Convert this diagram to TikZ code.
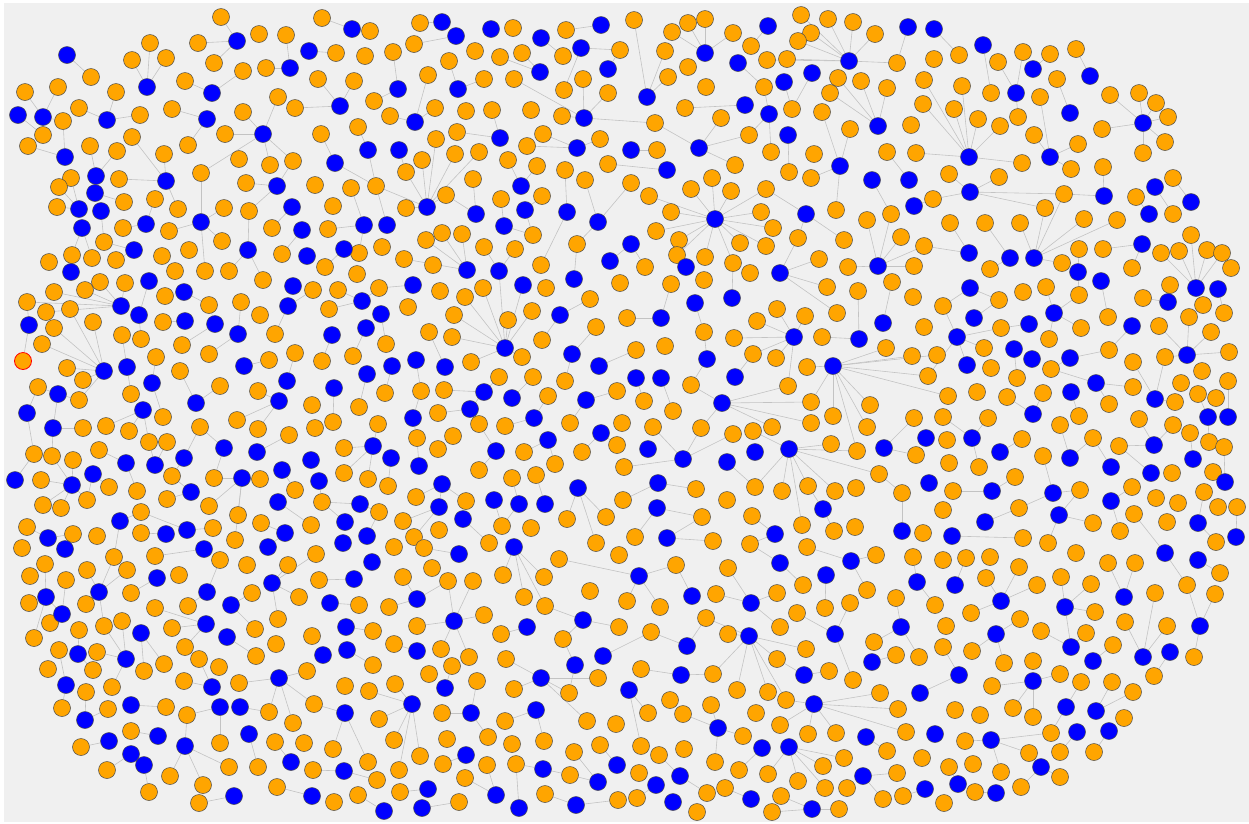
\documentclass[tikz,border=0pt]{standalone}
\usetikzlibrary{backgrounds}
\definecolor{bgc}{RGB}{240,240,240}
\definecolor{orn}{RGB}{255,165,0}
\definecolor{blu}{RGB}{0,0,255}
\definecolor{edg}{RGB}{195,195,195}
\newcommand\linkif[2]{\ifcsname pgf@sh@ns@n#1\endcsname\ifcsname pgf@sh@ns@n#2\endcsname\draw[link] (n#1) -- (n#2);\fi\fi}
\begin{document}
\begin{tikzpicture}[x=1pt,y=-1pt,
  vert/.style={circle,draw=black!70,line width=0.5pt,minimum size=17pt,inner sep=0pt},
  onode/.style={vert,fill=orn},
  bnode/.style={vert,fill=blu},
  link/.style={draw=edg,line width=0.6pt}]
\useasboundingbox (0,0) rectangle (1249,823);
% orange nodes
\foreach \x/\y in {221/17,198/43,259/34,286/35,150/43,132/60,166/58,214/63,243/71,266/68,91/77,185/81,25/92,58/87,116/92,278/97,295/108,79/108,140/115,172/109,243/112,63/121,43/135,28/146,132/137,90/146,117/151,188/145,225/134,164/154,239/159,270/165,293/161,71/178,59/187,119/179,201/173,246/183,57/207,124/202,155/199,178/209,224/208,249/211,123/228,169/231,222/241,272/228,104/242,189/250,282/254,49/262,72/255,92/258,116/260,162/256,175/271,205/271,229/271,
322/18,370/31,420/23,513/28,566/30,620/50,336/53,365/56,393/52,414/44,475/51,500/57,522/53,563/56,449/61,318/79,354/81,428/75,484/79,514/79,564/90,583/79,608/93,374/101,390/116,435/108,466/111,492/110,531/110,562/116,321/134,358/127,436/139,457/132,543/134,527/146,600/139,422/160,406/172,455/154,479/152,508/160,537/166,565/170,608/164,315/185,351/188,376/186,473/179,585/180,333/206,406/208,446/195,501/199,542/196,328/229,426/240,442/233,462/234,533/235,577/244,359/253,382/247,484/247,515/249,404/259,433/265,541/265,325/267,357/274,
634/20,672/32,688/23,705/19,733/33,801/15,811/33,798/41,828/19,853/22,875/34,665/51,751/46,767/60,787/59,897/63,934/59,688/67,668/77,706/87,764/87,838/78,861/81,887/88,924/80,830/93,685/108,792/109,822/112,923/104,655/123,721/118,749/135,850/129,911/125,657/150,771/152,814/154,887/152,916/153,735/165,789/172,811/178,631/183,649/196,712/178,691/189,731/191,766/189,933/199,671/212,761/212,836/210,867/220,891/214,656/231,679/240,677/255,773/228,740/243,766/246,798/238,844/240,901/237,924/246,645/267,705/257,733/263,750/273,819/259,848/267,914/266,
959/55,998/62,1023/52,1050/54,1076/49,962/86,991/93,1040/97,1057/79,1110/95,1139/93,1156/103,1168/117,1102/129,1165/142,1143/153,954/109,978/119,1000/126,1018/117,1034/135,1078/144,1022/163,1071/169,1103/167,949/174,999/177,1173/178,1064/194,1136/197,1045/208,1173/214,950/223,985/223,1020/223,1084/219,1117/220,1191/235,990/269,1062/263,1079/249,1103/249,1161/253,1179/251,1207/250,1222/253,1231/268,1132/268,
100/282,125/283,263/280,313/290,54/292,85/290,27/302,46/312,70/309,165/296,209/305,241/302,260/315,54/328,93/322,163/322,275/334,42/344,122/335,141/339,182/345,209/354,295/353,67/368,156/357,180/371,269/360,38/387,83/380,79/400,131/394,220/386,258/391,312/405,163/417,237/420,258/429,83/428,106/426,129/431,200/427,289/435,149/442,167/442,34/454,52/456,73/460,99/450,41/480,109/487,137/491,172/476,214/478,260/479,295/490,43/505,61/508,87/500,167/499,209/506,238/515,27/527,141/512,213/528,261/523,311/525,73/534,97/536,141/533,235/540,22/548,
338/290,379/288,440/291,465/297,483/288,546/288,590/299,620/283,329/309,408/307,454/315,508/320,532/311,596/327,429/332,452/337,542/340,386/344,322/361,353/356,471/362,522/357,499/377,533/377,565/381,385/393,421/391,444/390,548/396,617/391,359/407,438/413,479/424,505/426,570/423,622/423,333/422,315/428,378/424,417/438,453/436,617/445,344/448,438/449,524/452,582/452,555/464,344/473,368/479,388/486,479/470,512/478,536/475,416/497,466/501,623/500,322/502,379/512,567/519,606/517,403/521,502/526,531/528,414/537,439/530,394/547,424/548,489/543,596/543,
671/284,704/280,827/287,858/291,892/282,913/297,627/318,777/309,757/321,805/316,837/313,924/327,704/332,734/338,822/337,636/350,665/346,753/354,776/358,886/348,912/356,937/355,807/367,691/385,788/386,928/376,644/401,673/411,811/402,870/405,914/418,653/427,701/428,753/431,772/427,811/423,833/416,867/427,733/434,831/444,857/451,916/455,624/467,879/474,696/489,755/487,782/491,808/486,835/491,856/488,902/493,727/500,702/517,752/516,802/525,834/531,855/527,923/533,635/537,713/541,750/544,807/547,
943/306,999/300,1023/292,1046/287,1170/285,1079/295,1143/298,1203/305,1224/313,1108/317,1189/317,1001/328,1081/328,1159/326,1211/332,1049/339,984/348,1109/350,1229/352,1165/357,1133/362,991/368,1051/369,1202/371,1017/378,1133/387,1181/383,1228/381,948/396,977/392,1007/397,1043/393,1109/404,1175/402,1198/394,1216/398,943/417,988/418,1079/416,1060/425,1139/419,1173/425,1190/433,947/440,1022/439,1093/438,1119/446,1209/442,1224/447,1043/456,949/463,979/467,1015/477,1172/473,1213/472,953/491,1080/490,1132/487,1204/492,1156/498,1178/503,943/510,1019/508,1218/507,1237/507,1093/523,1134/514,1167/522,1120/531,1023/538,1048/543,1216/542,
45/564,30/576,66/580,114/557,87/570,127/570,155/556,220/560,179/575,247/565,288/565,29/603,131/593,252/593,299/597,86/604,155/608,188/606,50/623,79/630,104/626,122/621,172/628,278/619,255/629,34/638,312/636,59/650,97/652,185/647,199/659,276/644,256/656,48/669,93/670,144/671,164/664,219/667,112/687,184/681,239/683,307/671,86/692,62/708,108/709,166/707,187/715,269/712,293/723,314/704,131/731,220/743,275/742,304/743,81/747,107/770,170/776,229/767,258/767,313/770,149/792,203/785,277/787,199/803,
316/554,619/555,432/568,559/559,319/580,403/577,448/581,473/581,503/575,544/577,590/591,359/605,389/607,524/597,545/606,484/615,373/631,417/626,501/634,619/627,563/639,394/644,441/649,469/657,506/659,373/665,429/674,452/666,598/678,477/681,569/693,345/686,369/691,395/684,514/689,442/713,379/719,505/721,587/721,616/724,488/737,394/740,447/739,512/744,544/741,600/745,333/749,368/762,420/756,574/752,377/780,399/770,443/764,487/765,516/764,570/775,334/802,358/795,400/792,465/778,459/802,545/794,618/800,
876/555,913/557,676/565,728/568,803/585,867/590,627/601,660/607,716/594,777/593,825/608,850/603,896/598,935/605,706/618,797/613,780/627,651/632,728/634,806/649,874/642,896/655,919/657,777/659,641/669,713/674,829/671,853/680,737/690,768/692,786/700,880/693,670/700,711/705,898/709,648/713,683/714,756/713,780/725,743/736,808/734,836/733,906/732,641/746,659/755,684/749,844/758,887/751,922/758,715/762,739/770,823/766,897/773,639/773,768/774,725/788,798/781,825/788,847/788,707/793,781/796,883/799,903/796,637/798,697/812,772/812,839/809,
943/560,966/558,990/557,1076/553,1220/573,1019/567,986/578,1061/577,1091/584,1108/563,1135/563,1037/585,1155/593,1187/585,1215/594,971/613,1095/612,946/626,1020/619,1125/622,1167/626,1041/631,1086/633,943/647,972/651,1113/645,1194/657,1004/663,1033/661,1154/676,992/686,1060/674,1081/682,1112/682,1133/692,955/710,980/715,1013/708,1033/717,1124/718,965/741,1051/733,1029/753,1060/752,1094/752,949/767,973/764,1001/772,1060/777,975/792,1021/787,944/803}
  {\node[onode] (n\x-\y) at (\x,\y) {};}
\node[onode,draw=red,line width=0.8pt] (n23-361) at (23,361) {};
% blue nodes
\foreach \x/\y in {237/41,309/51,67/55,290/68,147/87,212/93,18/115,43/117,107/120,207/119,263/134,65/157,96/176,95/193,166/181,277/186,79/209,101/211,292/207,82/228,146/224,201/222,302/230,134/250,248/250,307/256,71/272,
352/29,442/22,456/36,491/29,601/25,541/38,581/48,540/72,608/69,398/89,458/89,340/106,415/122,584/118,368/150,399/150,500/138,577/148,335/163,521/186,427/207,525/210,567/212,598/222,476/214,364/225,387/225,504/226,344/249,467/270,499/271,610/261,
768/26,908/27,934/29,705/53,738/63,849/61,647/97,784/82,812/73,745/105,769/114,788/135,878/126,631/150,699/148,840/166,667/170,872/180,909/180,914/206,715/219,806/214,631/244,686/267,780/273,878/266,
983/45,1033/69,1090/76,1016/93,1070/113,1143/123,969/157,1050/157,1155/187,970/192,1104/196,1191/202,1149/214,969/253,1010/258,1034/258,1142/244,1078/272,
149/281,293/286,121/306,139/315,184/292,288/306,29/325,185/321,215/324,238/334,104/371,127/367,244/366,58/394,152/383,196/403,287/381,279/401,27/413,143/410,53/428,126/463,155/465,184/458,224/448,257/452,311/460,15/480,72/485,93/474,191/492,242/478,282/470,278/502,120/521,187/530,285/533,48/538,166/534,268/547,65/549,204/549,
362/301,413/285,523/285,574/279,381/314,560/315,332/335,366/328,505/348,392/366,416/360,445/367,572/354,599/366,367/374,334/388,484/392,512/398,586/400,470/409,413/418,534/418,548/440,601/433,373/446,391/458,496/451,419/466,319/481,442/484,494/500,519/504,545/504,578/488,360/504,439/507,345/522,463/519,367/536,343/543,514/547,
732/298,695/303,661/318,883/323,794/337,859/339,707/359,833/366,636/378,661/378,735/377,722/403,926/438,648/449,683/459,727/462,755/452,789/449,884/448,658/483,929/483,657/508,823/509,902/531,667/538,775/534,
970/288,1101/281,1196/288,1218/289,1168/302,974/318,1054/313,1029/324,1132/326,957/337,1014/349,1032/359,1070/358,1187/355,967/365,1096/383,1071/392,1155/399,1033/414,1208/417,1228/417,972/438,1154/445,1000/452,1070/458,1111/467,1193/459,1151/473,1225/482,992/491,1053/493,1111/501,985/522,1059/515,1198/523,952/536,1236/537,
99/592,157/578,46/597,207/592,272/583,231/605,62/614,206/624,141/633,227/637,78/654,126/659,66/685,212/687,279/678,131/705,220/707,240/707,85/720,158/736,185/746,249/734,109/741,131/754,144/765,291/762,234/796,
459/554,372/562,354/579,330/603,417/599,454/621,583/620,346/627,527/627,323/655,347/650,417/651,603/656,575/665,541/678,445/688,345/713,412/704,471/713,536/710,466/755,344/771,543/769,598/782,617/765,312/796,384/811,428/789,422/808,496/795,519/808,576/805,
780/563,851/561,639/576,826/575,917/582,692/596,751/603,749/636,835/634,901/627,687/646,872/662,681/675,804/675,629/690,920/693,814/704,718/728,866/737,935/734,762/748,789/747,680/776,863/776,656/785,925/789,673/802,751/799,812/809,
1165/553,1198/560,955/585,1001/601,1065/607,1124/597,1200/626,996/634,1071/647,1143/657,1170/652,1093/661,959/675,1033/681,1066/707,1096/711,991/740,1077/732,1109/731,1041/767,958/784,996/793}
  {\node[bnode] (n\x-\y) at (\x,\y) {};}
\begin{pgfonlayer}{background}
\fill[white] (0,0) rectangle (1249,823);
\fill[bgc] (4,3) rectangle (1249,822);
\foreach \a/\b in {237-41/221-17,237-41/198-43,237-41/214-63,290-68/286-35,290-68/266-68,67-55/91-77,147-87/150-43,147-87/132-60,147-87/166-58,212-93/185-81,212-93/243-71,43-117/58-87,43-117/25-92,18-115/43-135,43-117/63-121,107-120/116-92,107-120/140-115,107-120/79-108,65-157/63-121,65-157/28-146,207-119/172-109,207-119/188-145,263-134/278-97,263-134/225-134,263-134/270-165,263-134/293-161,263-134/201-173,263-134/243-112,166-181/132-137,166-181/164-154,166-181/119-179,96-176/90-146,96-176/117-151,166-181/178-209,201-222/201-173,201-222/224-208,201-222/169-231,201-222/205-271,277-186/246-183,277-186/293-161,277-186/249-211,248-250/249-211,248-250/229-271,248-250/263-280,146-224/155-199,101-211/104-242,95-193/124-202,79-209/57-207,79-209/71-178,79-209/59-187,82-228/72-255,82-228/92-258,134-250/104-242,302-230/282-254,71-272/72-255,309-51/336-53,295-108/340-106,292-207/272-228,146-224/123-228,134-250/116-260,201-222/222-241,
352-29/322-18,456-36/414-44,442-22/420-23,601-25/566-30,541-38/563-56,581-48/620-50,581-48/564-90,583-79/584-118,540-72/522-53,540-72/500-57,398-89/393-52,398-89/374-101,458-89/449-61,458-89/484-79,340-106/354-81,340-106/318-79,415-122/428-75,415-122/435-108,457-132/500-138,492-110/500-138,584-118/562-116,514-79/584-118,584-118/608-93,577-148/543-134,577-148/527-146,577-148/600-139,368-150/358-127,368-150/376-186,335-163/321-134,335-163/376-186,427-207/422-160,427-207/406-172,427-207/436-139,427-207/455-154,427-207/479-152,427-207/446-195,427-207/406-208,376-186/427-207,387-225/376-186,364-225/351-188,364-225/328-229,364-225/359-253,476-214/473-179,476-214/446-195,521-186/508-160,521-186/537-166,525-210/533-235,525-210/542-196,567-212/565-170,567-212/541-265,598-222/585-180,598-222/577-244,504-226/533-235,504-226/501-199,467-270/426-240,467-270/442-233,467-270/462-234,467-270/404-259,577-244/574-279,598-222/631-183,610-261/631-244,344-249/325-267,499-271/484-247,499-271/515-249,415-122/390-116,399-150/406-172,608-69/620-50,
647-97/634-20,647-97/665-51,647-97/668-77,705-53/672-32,705-53/688-23,705-53/705-19,705-53/733-33,768-26/751-46,849-61/801-15,849-61/811-33,849-61/828-19,849-61/853-22,849-61/875-34,849-61/787-59,849-61/897-63,849-61/798-41,849-61/767-60,908-27/897-63,934-29/959-55,738-63/764-87,784-82/792-109,812-73/792-109,745-105/685-108,769-114/749-135,769-114/771-152,769-114/764-87,788-135/789-172,699-148/721-118,699-148/749-135,699-148/735-165,699-148/655-123,584-118/655-123,631-150/657-150,667-170/608-164,878-126/830-93,878-126/861-81,878-126/887-88,878-126/838-78,840-166/822-112,840-166/850-129,840-166/811-178,840-166/836-210,872-180/891-214,909-180/887-152,914-206/933-199,715-219/712-178,715-219/691-189,715-219/731-191,715-219/766-189,715-219/671-212,715-219/761-212,715-219/656-231,715-219/679-240,715-219/773-228,715-219/740-243,715-219/766-246,715-219/705-257,715-219/733-263,715-219/649-196,715-219/677-255,806-214/766-189,806-214/844-240,806-214/798-238,878-266/867-220,878-266/901-237,878-266/924-246,878-266/848-267,878-266/914-266,878-266/891-214,780-273/798-238,780-273/819-259,686-267/677-255,631-244/645-267,
983-45/991-93,998-62/1016-93,1023-52/1016-93,1016-93/1018-117,1050-54/1033-69,1076-49/1090-76,1057-79/1070-113,969-157/962-86,969-157/954-109,969-157/978-119,969-157/1000-126,969-157/1022-163,969-157/924-80,969-157/923-104,969-157/916-153,1050-157/1040-97,1050-157/1034-135,1050-157/1078-144,1050-157/1071-169,1143-123/1110-95,1143-123/1139-93,1143-123/1156-103,1143-123/1168-117,1143-123/1102-129,1143-123/1165-142,1143-123/1143-153,970-192/999-177,970-192/1064-194,970-192/1045-208,970-192/933-199,970-192/949-174,1104-196/1103-167,1104-196/1064-194,1034-258/1064-194,1191-202/1173-178,1155-187/1173-214,1149-214/1136-197,1034-258/1020-223,1034-258/1045-208,1034-258/1084-219,1034-258/1117-220,1034-258/1062-263,1010-258/985-223,1010-258/990-269,969-253/950-223,969-253/924-246,1142-244/1103-249,1142-244/1132-268,1079-249/1078-272,1196-288/1179-251,1196-288/1207-250,1196-288/1222-253,1196-288/1191-235,1196-288/1161-253,1078-272/1079-295,
121-306/85-290,121-306/54-292,121-306/27-302,121-306/46-312,121-306/125-283,121-306/100-282,104-371/93-322,104-371/70-309,104-371/54-328,104-371/42-344,104-371/67-368,104-371/83-380,104-371/79-400,139-315/141-339,139-315/149-281,127-367/122-335,127-367/131-394,152-383/156-357,152-383/163-417,143-410/106-426,143-410/129-431,143-410/149-442,184-292/165-296,184-292/209-305,215-324/182-345,185-321/163-322,238-334/241-302,238-334/209-354,288-306/275-334,288-306/313-290,29-325/27-302,29-325/23-361,196-403/180-371,196-403/220-386,244-366/269-360,279-401/258-391,279-401/258-429,279-401/237-420,287-381/295-353,58-394/38-387,58-394/53-428,58-394/79-400,27-413/38-387,27-413/34-454,53-428/83-428,53-428/52-456,224-448/200-427,224-448/214-478,184-458/172-476,184-458/200-427,257-452/289-435,126-463/99-450,126-463/137-491,72-485/41-480,72-485/52-456,72-485/73-460,72-485/43-505,72-485/61-508,72-485/87-500,15-480/34-454,242-478/260-479,242-478/209-506,242-478/238-515,242-478/235-540,242-478/214-478,282-470/295-490,278-502/311-525,191-492/172-476,191-492/167-499,120-521/141-512,120-521/114-557,187-530/141-512,187-530/213-528,166-534/141-533,285-533/261-523,285-533/268-547,48-538/73-534,48-538/27-527,93-474/109-487,93-474/87-500,155-465/149-442,155-465/167-442,215-324/209-305,
505-348/483-288,505-348/465-297,505-348/454-315,505-348/452-337,505-348/508-320,505-348/532-311,505-348/471-362,505-348/523-285,505-348/499-271,505-348/522-357,362-301/338-290,362-301/329-309,362-301/379-288,413-285/379-288,381-314/386-344,366-328/353-356,392-366/385-393,445-367/429-332,416-360/421-391,484-392/444-390,484-392/499-377,470-409/438-413,470-409/484-392,470-409/479-424,560-315/542-340,590-299/560-315,572-354/596-327,572-354/565-381,599-366/636-350,586-400/617-391,586-400/570-423,534-418/548-396,534-418/505-426,548-440/524-452,548-440/555-464,601-433/582-452,601-433/617-445,413-418/417-438,413-418/421-391,373-446/344-448,373-446/344-473,373-446/368-479,373-446/378-424,391-458/388-486,419-466/417-438,496-451/479-424,496-451/479-470,442-484/416-497,442-484/466-501,442-484/439-507,439-507/403-521,439-507/414-537,519-504/512-478,519-504/502-526,545-504/536-475,578-488/567-519,578-488/606-517,578-488/596-543,360-504/379-512,360-504/322-502,345-522/322-502,463-519/489-543,367-536/379-512,332-335/322-361,334-388/333-422,367-374/359-407,512-398/533-377,494-500/502-526,319-481/322-502,
671-284/661-318,732-298/733-263,794-337/777-309,794-337/757-321,794-337/734-338,794-337/805-316,794-337/753-354,794-337/788-386,794-337/776-358,780-273/827-287,780-273/837-313,859-339/822-337,859-339/858-291,883-323/892-282,833-366/807-367,833-366/886-348,833-366/912-356,833-366/928-376,833-366/811-402,833-366/833-416,833-366/870-405,833-366/867-427,833-366/857-451,833-366/937-355,833-366/948-396,661-318/627-318,695-303/704-332,707-359/704-332,707-359/691-385,735-377/753-354,722-403/691-385,722-403/788-386,722-403/811-402,722-403/811-423,722-403/772-427,722-403/701-428,661-378/673-411,636-378/644-401,683-459/653-427,683-459/701-428,683-459/733-434,683-459/624-467,727-462/755-487,789-449/831-444,789-449/857-451,789-449/879-474,789-449/755-487,789-449/782-491,789-449/808-486,789-449/835-491,789-449/802-525,789-449/753-431,884-448/914-418,884-448/916-455,902-493/879-474,902-493/902-531,658-483/696-489,658-483/623-500,657-508/702-517,657-508/635-537,667-538/702-517,667-538/713-541,775-534/752-516,775-534/750-544,823-509/834-531,823-509/808-486,
970-288/943-306,970-288/999-300,974-318/999-300,957-337/1001-328,957-337/984-348,957-337/943-306,957-337/967-365,957-337/928-376,1029-324/1001-328,1054-313/1046-287,1054-313/1079-295,1054-313/1081-328,1054-313/1049-339,1101-281/1108-317,1070-358/1109-350,1070-358/1051-369,1014-349/1017-378,1132-326/1109-350,1168-302/1143-298,1168-302/1170-285,1187-355/1159-326,1187-355/1189-317,1187-355/1211-332,1187-355/1229-352,1187-355/1165-357,1155-399/1133-362,1155-399/1165-357,1096-383/1051-369,1096-383/1133-387,1096-383/1109-404,1033-414/1007-397,1033-414/1043-393,972-438/943-417,972-438/988-418,972-438/979-467,1000-452/1022-439,1070-458/1060-425,1070-458/1093-438,1154-445/1139-419,1154-445/1119-446,1154-445/1173-425,1111-467/1093-438,1151-473/1119-446,1193-459/1190-433,1208-417/1209-442,1228-417/1228-381,1225-482/1224-447,1053-493/1043-456,1053-493/1019-508,1053-493/1080-490,1059-515/1080-490,1059-515/1093-523,1059-515/1048-543,992-491/953-491,992-491/1015-477,985-522/1019-508,952-536/1023-538,1111-501/1120-531,1111-501/1132-487,1198-523/1204-492,1198-523/1216-542,1236-537/1237-507,1134-514/1165-553,1071-392/1079-416,1218-289/1224-313,1155-399/1175-402,1208-417/1198-394,
99-592/87-570,99-592/127-570,99-592/114-557,99-592/104-626,46-597/45-564,46-597/29-603,46-597/62-614,46-597/34-638,62-614/66-580,62-614/50-623,157-578/131-593,207-592/220-560,207-592/188-606,155-556/204-549,231-605/252-593,231-605/255-629,272-583/288-565,272-583/299-597,272-583/278-619,272-583/316-554,206-624/155-608,206-624/172-628,206-624/185-647,227-637/256-656,141-633/144-671,141-633/164-664,126-659/104-626,126-659/122-621,126-659/97-652,126-659/112-687,78-654/79-630,78-654/93-670,66-685/59-650,66-685/62-708,212-687/184-681,212-687/199-659,279-678/239-683,279-678/307-671,279-678/269-712,279-678/293-723,279-678/314-704,131-705/166-707,85-720/86-692,85-720/108-709,220-707/187-715,220-707/220-743,185-746/187-715,185-746/170-776,185-746/203-785,185-746/229-767,158-736/131-731,109-741/81-747,131-754/107-770,144-765/149-792,249-734/258-767,291-762/275-742,234-796/199-803,240-707/269-712,277-787/312-796,
459-554/424-548,417-599/403-577,417-599/448-581,417-599/389-607,454-621/448-581,454-621/473-581,454-621/484-615,454-621/417-626,454-621/441-649,454-621/469-657,514-547/503-575,514-547/524-597,514-547/544-577,514-547/545-606,583-620/545-606,583-620/563-639,583-620/619-627,575-665/563-639,575-665/569-693,559-559/639-576,527-627/501-634,354-579/319-580,330-603/359-605,346-627/373-631,347-650/373-665,417-651/394-644,541-678/506-659,541-678/569-693,541-678/514-689,541-678/598-678,541-678/587-721,603-656/651-632,412-704/369-691,412-704/395-684,412-704/379-719,412-704/394-740,412-704/420-756,412-704/399-770,345-713/314-704,345-713/333-749,345-713/368-762,471-713/442-713,471-713/477-681,471-713/488-737,445-688/452-666,466-755/443-764,536-710/505-721,536-710/544-741,543-769/516-764,543-769/570-775,598-782/574-752,598-782/570-775,617-765/600-745,344-771/313-770,344-771/377-780,384-811/358-795,428-789/400-792,422-808/459-802,496-795/487-765,496-795/465-778,519-808/516-764,576-805/545-794,576-805/618-800,
639-576/676-565,639-576/660-607,639-576/627-601,692-596/676-565,751-603/728-568,751-603/716-594,751-603/777-593,751-603/780-627,749-636/706-618,749-636/728-634,749-636/713-674,749-636/737-690,749-636/768-692,749-636/777-659,749-636/786-700,749-636/806-649,780-563/750-544,780-563/803-585,826-575/825-608,851-561/876-555,851-561/867-590,851-561/807-547,835-634/797-613,835-634/850-603,835-634/853-680,901-627/896-598,901-627/874-642,901-627/919-657,872-662/896-655,804-675/777-659,804-675/829-671,917-582/935-605,917-582/913-557,687-646/706-618,687-646/651-632,681-675/641-669,681-675/713-674,629-690/648-713,629-690/641-746,814-704/786-700,814-704/780-725,814-704/808-734,814-704/836-733,814-704/880-693,814-704/898-709,814-704/906-732,920-693/959-675,718-728/683-714,718-728/743-736,718-728/711-705,718-728/715-762,762-748/739-770,789-747/768-774,789-747/798-781,789-747/823-766,789-747/825-788,789-747/844-758,866-737/887-751,863-776/883-799,863-776/897-773,680-776/659-755,680-776/707-793,751-799/725-788,812-809/781-796,812-809/839-809,812-809/772-812,656-785/637-798,925-789/903-796,
955-585/966-558,1001-601/1019-567,1001-601/1037-585,1001-601/971-613,1001-601/986-578,1065-607/1061-577,1065-607/1091-584,1065-607/1095-612,1124-597/1108-563,1124-597/1135-563,1143-657/1125-622,1143-657/1155-593,1143-657/1167-626,1170-652/1154-676,1200-626/1187-585,1200-626/1215-594,1200-626/1194-657,1187-585/1165-553,1198-560/1220-573,996-634/1020-619,996-634/1004-663,996-634/972-651,1071-647/1041-631,1071-647/1086-633,1071-647/1065-607,1093-661/1113-645,959-675/943-647,1033-681/992-686,1033-681/1060-674,1033-681/1013-708,1033-681/1033-717,1066-707/1081-682,1066-707/1051-733,1096-711/1112-682,1096-711/1133-692,991-740/1051-733,991-740/965-741,991-740/1029-753,991-740/1001-772,1077-732/1060-752,1109-731/1094-752,1041-767/1029-753,1041-767/1021-787,1041-767/1060-777,958-784/949-767,996-793/975-792}
  {\linkif{\a}{\b}}
\end{pgfonlayer}
\end{tikzpicture}
\end{document}
